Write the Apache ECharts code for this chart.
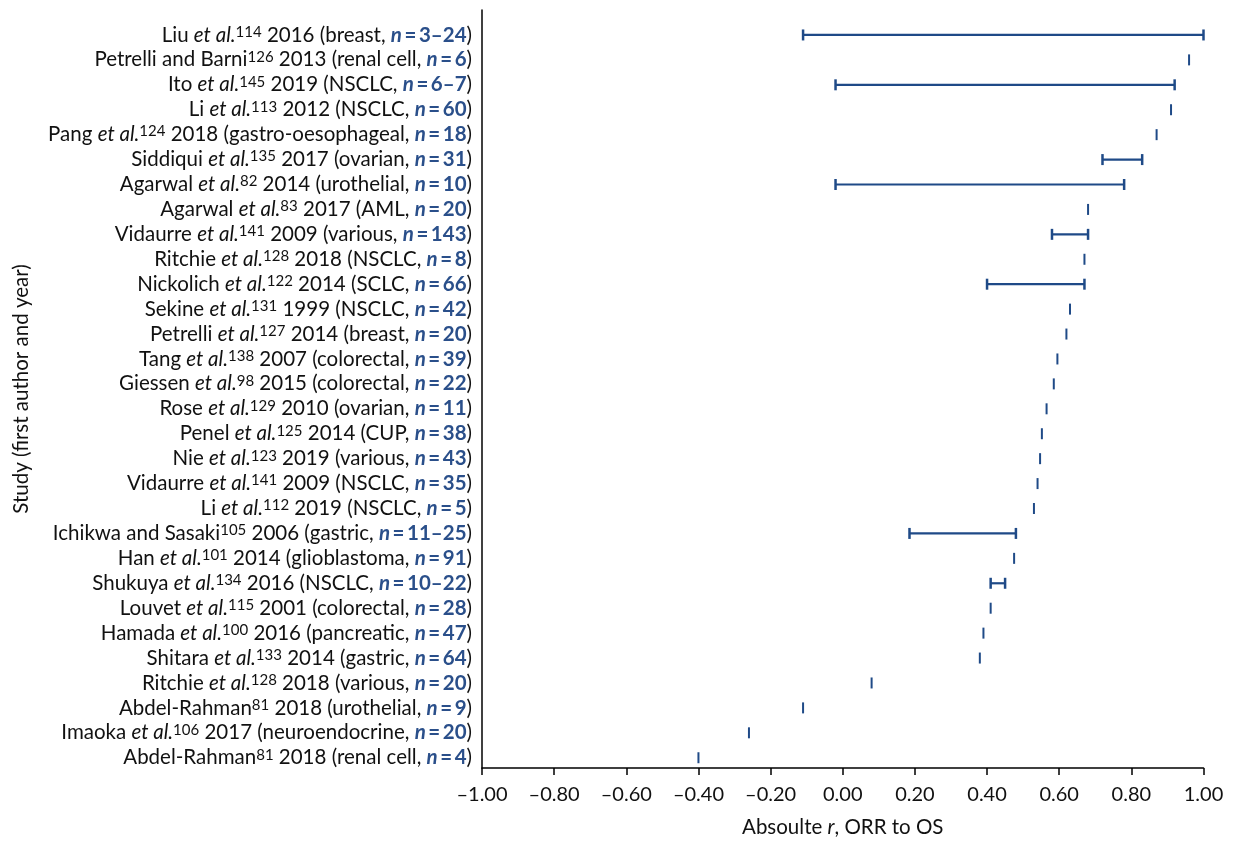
<!DOCTYPE html>
<html>
<head>
<meta charset="utf-8">
<script src="https://cdn.jsdelivr.net/npm/echarts@6/dist/echarts.min.js"></script>
<style>
html,body{margin:0;padding:0;background:#fff;}
#chart{width:1236px;height:843px;}
</style>
</head>
<body>
<div id="chart"></div>
<script>
// Study label parts (top to bottom)
const authors = ['Liu','Petrelli and Barni','Ito','Li','Pang','Siddiqui','Agarwal','Agarwal','Vidaurre','Ritchie',
  'Nickolich','Sekine','Petrelli','Tang','Giessen','Rose','Penel','Nie','Vidaurre','Li',
  'Ichikwa and Sasaki','Han','Shukuya','Louvet','Hamada','Shitara','Ritchie','Abdel-Rahman','Imaoka','Abdel-Rahman'];
const etAl = [1,0,1,1,1,1,1,1,1,1, 1,1,1,1,1,1,1,1,1,1, 0,1,1,1,1,1,1,0,1,0];
const refs = ['114','126','145','113','124','135','82','83','141','128',
  '122','131','127','138','98','129','125','123','141','112',
  '105','101','134','115','100','133','128','81','106','81'];
const years = ['2016','2013','2019','2012','2018','2017','2014','2017','2009','2018',
  '2014','1999','2014','2007','2015','2010','2014','2019','2009','2019',
  '2006','2014','2016','2001','2016','2014','2018','2018','2017','2018'];
const cancers = ['breast','renal cell','NSCLC','NSCLC','gastro-oesophageal','ovarian','urothelial','AML','various','NSCLC',
  'SCLC','NSCLC','breast','colorectal','colorectal','ovarian','CUP','various','NSCLC','NSCLC',
  'gastric','glioblastoma','NSCLC','colorectal','pancreatic','gastric','various','urothelial','neuroendocrine','renal cell'];
const sizes = ['3–24','6','6–7','60','18','31','10','20','143','8',
  '66','42','20','39','22','11','38','43','35','5',
  '11–25','91','10–22','28','47','64','20','9','20','4'];
// Absolute r, ORR to OS: lower and upper values (equal when a single value)
const rLow = [-0.11,0.96,-0.02,0.91,0.87,0.72,-0.02,0.68,0.58,0.67,
  0.40,0.63,0.62,0.595,0.585,0.565,0.552,0.547,0.54,0.53,
  0.185,0.475,0.41,0.41,0.39,0.38,0.08,-0.11,-0.26,-0.40];
const rHigh = [1.00,0.96,0.92,0.91,0.87,0.83,0.78,0.68,0.68,0.67,
  0.67,0.63,0.62,0.595,0.585,0.565,0.552,0.547,0.54,0.53,
  0.48,0.475,0.45,0.41,0.39,0.38,0.08,-0.11,-0.26,-0.40];
const xTicks = [-1, 1, 0.2];

const BLUE = '#1f4a87';
const NBLUE = '#2a4f8a';
const FONT = 'Lato';
const FS = 20.5;
const studyKeys = authors.map((a, i) => 'S' + i);
const labelText = authors.map((a, i) =>
  a + (etAl[i] ? ' {i|et al.}' : '') + '{s|' + refs[i] + '} ' + years[i] + ' (' + cancers[i] + ', {n|n}{b|\u2009=\u2009' + sizes[i] + '})');
const seriesData = rLow.map((lo, i) => [lo, rHigh[i], i]);

const chart = echarts.init(document.getElementById('chart'));
const L = 482, R = 32.5;
chart.setOption({
  animation: false,
  backgroundColor: '#fff',
  grid: [
    {left: L, right: R, top: 22.5, bottom: 72.8, containLabel: false},
    {left: L, right: R, top: 10, bottom: 63, containLabel: false}
  ],
  xAxis: [
    {gridIndex: 0, type: 'value', min: xTicks[0], max: xTicks[1], interval: xTicks[2], show: false},
    {gridIndex: 1, type: 'value', min: xTicks[0], max: xTicks[1], interval: xTicks[2],
      axisLine: {show: true, onZero: false, lineStyle: {color: '#000', width: 1.5}},
      axisTick: {show: true, length: 7, lineStyle: {color: '#000', width: 1.5}},
      splitLine: {show: false},
      axisLabel: {margin: 17, color: '#111', fontFamily: FONT, fontSize: 20,
        formatter: v => (v < 0 ? '\u2013' : '') + Math.abs(v).toFixed(2)},
      name: 'Absoulte {i|r}, ORR to OS', nameLocation: 'middle', nameGap: 49,
      nameTextStyle: {color: '#111', fontFamily: FONT, fontSize: FS,
        rich: {i: {fontStyle: 'italic', fontFamily: FONT, fontSize: FS, color: '#111'}}}
    }
  ],
  yAxis: [
    {gridIndex: 0, type: 'category', data: studyKeys, inverse: true,
      axisLine: {show: false}, axisTick: {show: false}, splitLine: {show: false},
      axisLabel: {interval: 0, hideOverlap: false, margin: 10, color: '#111', fontFamily: FONT, fontSize: FS, align: 'right',
        formatter: (v, idx) => labelText[idx],
        rich: {
          i: {fontStyle: 'italic', fontFamily: FONT, fontSize: FS, color: '#111'},
          s: {fontFamily: FONT, fontSize: 15, color: '#111', verticalAlign: 'top'},
          n: {fontStyle: 'italic', fontWeight: 'bold', fontFamily: FONT, fontSize: FS, color: NBLUE},
          b: {fontWeight: 'bold', fontFamily: FONT, fontSize: FS, color: NBLUE}
        }}
    },
    {gridIndex: 1, type: 'value', min: 0, max: 1,
      axisLine: {show: true, onZero: false, lineStyle: {color: '#000', width: 1.5}},
      axisTick: {show: false}, axisLabel: {show: false}, splitLine: {show: false},
      name: 'Study (first author and year)', nameLocation: 'middle', nameGap: 450, nameRotate: 90,
      nameTextStyle: {color: '#111', fontFamily: FONT, fontSize: FS}
    }
  ],
  series: [{
    type: 'custom',
    xAxisIndex: 0, yAxisIndex: 0,
    data: seriesData,
    encode: {x: [0, 1], y: 2},
    renderItem: function (params, api) {
      const lo = api.value(0), hi = api.value(1), idx = api.value(2);
      const p1 = api.coord([lo, idx]);
      const p2 = api.coord([hi, idx]);
      const h = 5.5;
      const st = {stroke: BLUE, lineWidth: 2.2, fill: null};
      if (lo === hi) {
        return {type: 'line', shape: {x1: p1[0], y1: p1[1] - h, x2: p1[0], y2: p1[1] + h}, style: {stroke: BLUE, lineWidth: 2}};
      }
      return {type: 'group', children: [
        {type: 'line', shape: {x1: p1[0], y1: p1[1], x2: p2[0], y2: p2[1]}, style: st},
        {type: 'line', shape: {x1: p1[0], y1: p1[1] - h, x2: p1[0], y2: p1[1] + h}, style: {stroke: BLUE, lineWidth: 2.5}},
        {type: 'line', shape: {x1: p2[0], y1: p2[1] - h, x2: p2[0], y2: p2[1] + h}, style: {stroke: BLUE, lineWidth: 2.5}}
      ]};
    }
  }]
});
</script>
</body>
</html>
